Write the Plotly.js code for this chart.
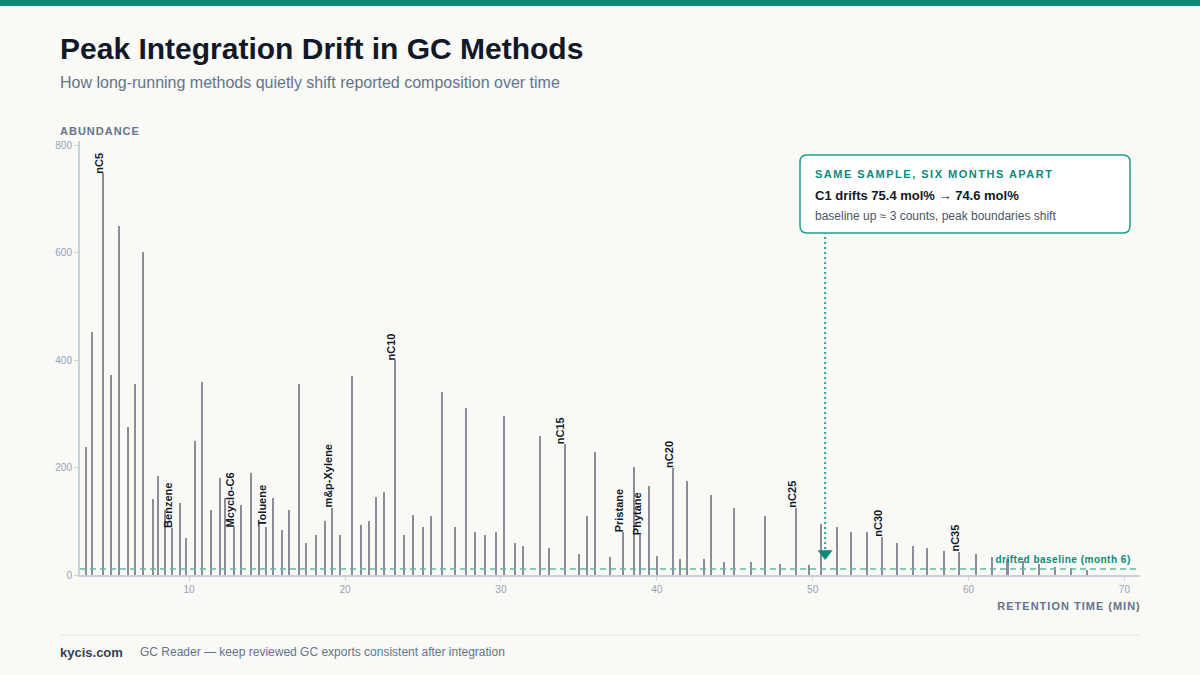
<!DOCTYPE html>
<html>
<head>
<meta charset="utf-8">
<script src="https://cdn.plot.ly/plotly-3.0.1.min.js"></script>
<style>
  html, body { margin: 0; padding: 0; background: #f9f9f6; }
  #chart { width: 1200px; height: 675px; }
</style>
</head>
<body>
<div id="chart"></div>
<script>
// ---------------- DATA ----------------
const retentionTimes = [
  3.40, 3.78, 4.47, 5.00, 5.51, 6.07, 6.52, 7.05, 7.67, 8.01,
  8.46, 8.91, 9.40, 9.81, 10.36, 10.85, 11.39, 11.97, 12.31, 12.86,
  13.33, 13.97, 14.51, 14.94, 15.36, 15.94, 16.39, 17.03, 17.48, 18.12,
  18.72, 19.15, 19.68, 20.43, 21.00, 21.54, 21.99, 22.50, 23.20, 23.77,
  24.35, 24.98, 25.49, 26.22, 27.04, 27.76, 28.33, 28.95, 29.66, 30.17,
  30.88, 31.41, 32.48, 33.06, 34.10, 35.00, 35.51, 36.03, 37.00, 37.82,
  38.53, 38.95, 39.53, 40.00, 41.03, 41.50, 41.97, 43.00, 43.50, 44.30,
  44.98, 46.03, 46.96, 47.93, 48.95, 49.79, 50.56, 51.58, 52.48, 53.50,
  54.47, 55.43, 56.45, 57.35, 58.40, 59.40, 60.49, 61.51, 62.50, 63.50,
  64.53, 65.56, 66.58, 67.60
];
const abundances = [
  238, 452, 748, 372, 650, 275, 355, 601, 141, 185,
  121, 87, 134, 69, 249, 359, 121, 180, 143, 89,
  130, 190, 92, 90, 143, 84, 121, 355, 59, 74,
  100, 125, 74, 370, 93, 100, 145, 154, 400, 74,
  112, 89, 110, 340, 89, 311, 80, 74, 80, 296,
  60, 54, 259, 50, 244, 39, 110, 229, 33, 80,
  201, 74, 165, 35, 200, 30, 175, 30, 149, 24,
  125, 24, 110, 20, 125, 19, 95, 89, 80, 80,
  71, 60, 54, 50, 45, 43, 39, 34, 29, 27,
  21, 15, 13, 10
];
const labelNames = ['nC5', 'Benzene', 'Mcyclo-C6', 'Toluene', 'm&p-Xylene', 'nC10', 'nC15', 'Pristane', 'Phytane', 'nC20', 'nC25', 'nC30', 'nC35'];
const labelTimes = [4.47, 8.91, 12.86, 14.94, 19.15, 23.20, 34.10, 37.82, 38.95, 41.03, 48.95, 54.47, 59.40];
const yTickValues = [0, 200, 400, 600, 800];
const xTickValues = [10, 20, 30, 40, 50, 60, 70];
const driftedBaseline = 11;
const calloutTime = 50.8;
const calloutTipValue = 40;

// ---------------- LAYOUT HELPERS ----------------
const FONT = 'Liberation Sans, Arial, Helvetica, sans-serif';
const TEAL = '#0d8a78';
const PL = 80, PR = 1140, PT = 141, PB = 575;
const px2x = p => (p - PL) / (PR - PL);
const py2y = p => (PB - p) / (PB - PT);

function roundedRectPath(x0, y0, x1, y1, r) {
  const X = px2x, Y = py2y;
  return 'M' + X(x0 + r) + ',' + Y(y0) +
    ' L' + X(x1 - r) + ',' + Y(y0) +
    ' Q' + X(x1) + ',' + Y(y0) + ' ' + X(x1) + ',' + Y(y0 + r) +
    ' L' + X(x1) + ',' + Y(y1 - r) +
    ' Q' + X(x1) + ',' + Y(y1) + ' ' + X(x1 - r) + ',' + Y(y1) +
    ' L' + X(x0 + r) + ',' + Y(y1) +
    ' Q' + X(x0) + ',' + Y(y1) + ' ' + X(x0) + ',' + Y(y1 - r) +
    ' L' + X(x0) + ',' + Y(y0 + r) +
    ' Q' + X(x0) + ',' + Y(y0) + ' ' + X(x0 + r) + ',' + Y(y0) + ' Z';
}

function textAnn(text, pxX, pxY, anchor, size, color, weight) {
  return {
    text: text, xref: 'paper', yref: 'paper', x: px2x(pxX), y: py2y(pxY),
    xanchor: anchor, yanchor: 'middle', showarrow: false,
    xshift: anchor === 'left' ? -2 : 2,
    font: { family: FONT, size: size, color: color, weight: weight || 400 }
  };
}

// ---------------- TRACES ----------------
const peaks = {
  type: 'bar', x: retentionTimes, y: abundances, width: 0.13,
  marker: { color: '#8b8e98', line: { width: 0 } },
  hoverinfo: 'skip', showlegend: false
};
const tip = {
  type: 'scatter', mode: 'markers', x: [calloutTime], y: [calloutTipValue],
  marker: { symbol: 'triangle-down', size: 13, color: TEAL },
  hoverinfo: 'skip', showlegend: false, cliponaxis: false
};

// ---------------- ANNOTATIONS ----------------
const annotations = [];
labelNames.forEach((name, i) => {
  const idx = retentionTimes.indexOf(labelTimes[i]);
  annotations.push({
    text: name, x: labelTimes[i], y: abundances[idx], xref: 'x', yref: 'y',
    textangle: -90, xanchor: 'center', yanchor: 'bottom', showarrow: false,
    xshift: -4, yshift: -1, borderpad: 0,
    font: { family: FONT, size: 11, color: '#111827', weight: 700 }
  });
});
annotations.push(textAnn('Peak Integration Drift in GC Methods', 60, 48, 'left', 30, '#111827', 700));
annotations.push(textAnn('How long-running methods quietly shift reported composition over time', 60, 82, 'left', 16, '#64748b', 400));
annotations.push(textAnn('ABUNDANCE', 60, 131, 'left', 11, '#64748b', 700));
annotations.push(textAnn('RETENTION TIME (MIN)', 1140, 606, 'right', 11, '#64748b', 700));
annotations.push(textAnn('kycis.com', 60, 652, 'left', 13, '#334155', 700));
annotations.push(textAnn('GC Reader — keep reviewed GC exports consistent after integration', 140, 652, 'left', 12, '#64748b', 400));
annotations.push(textAnn('SAME SAMPLE, SIX MONTHS APART', 815, 174, 'left', 11, TEAL, 700));
annotations.push(textAnn('C1 drifts 75.4 mol% → 74.6 mol%', 815, 196, 'left', 13, '#111827', 700));
annotations.push(textAnn('baseline up ≈ 3 counts, peak boundaries shift', 815, 216, 'left', 12, '#4b5563', 400));
annotations.push(textAnn('drifted baseline (month 6)', 1130, 559, 'right', 10, TEAL, 700));

// ---------------- SHAPES ----------------
const shapes = [
  { type: 'rect', xref: 'paper', yref: 'paper', x0: px2x(0), x1: px2x(1200), y0: py2y(0), y1: py2y(6),
    fillcolor: TEAL, line: { width: 0 } },
  { type: 'line', xref: 'paper', yref: 'paper', x0: px2x(60), x1: px2x(1140), y0: py2y(635), y1: py2y(635),
    line: { color: '#e2e6ea', width: 1 } },
  { type: 'line', xref: 'paper', yref: 'y', x0: 0, x1: 1, y0: driftedBaseline, y1: driftedBaseline,
    line: { color: '#5fb8aa', width: 1.5, dash: '6px,4px' }, layer: 'above' },
  { type: 'line', xref: 'x', yref: 'paper', x0: calloutTime, x1: calloutTime, y0: py2y(549), y1: py2y(233),
    line: { color: '#2aa595', width: 2, dash: '2px,3px' } },
  { type: 'path', xref: 'paper', yref: 'paper', path: roundedRectPath(800, 155, 1130, 233, 7),
    fillcolor: '#ffffff', line: { color: '#1f9d8c', width: 1.5 } }
];

const layout = {
  width: 1200, height: 675,
  margin: { l: PL, r: 1200 - PR, t: PT, b: 675 - PB, pad: 0 },
  paper_bgcolor: '#f9f9f6', plot_bgcolor: '#f9f9f6',
  font: { family: FONT },
  showlegend: false, hovermode: false, bargap: 0,
  xaxis: {
    range: [3, 71], tickvals: xTickValues, ticktext: xTickValues.map(String),
    showgrid: false, zeroline: false, showline: true, linecolor: '#c8d0da', linewidth: 2,
    ticks: 'outside', ticklen: 4, tickwidth: 1, tickcolor: '#c8d0da',
    tickfont: { family: FONT, size: 10, color: '#94a3b8' }, fixedrange: true
  },
  yaxis: {
    range: [0, 808], tickvals: yTickValues, ticktext: yTickValues.map(String),
    showgrid: false, zeroline: false, showline: true, linecolor: '#c8d0da', linewidth: 2,
    ticks: 'outside', ticklen: 4, tickwidth: 1, tickcolor: '#c8d0da',
    tickfont: { family: FONT, size: 10, color: '#94a3b8' }, fixedrange: true
  },
  annotations: annotations,
  shapes: shapes
};

Plotly.newPlot('chart', [peaks, tip], layout, { displayModeBar: false, staticPlot: true }).then(gd => {
  const spacing = {
    'ABUNDANCE': [1, 'left'],
    'RETENTION TIME (MIN)': [1, 'right'],
    'SAME SAMPLE, SIX MONTHS APART': [1.5, 'left'],
    'drifted baseline (month 6)': [0.5, 'right']
  };
  gd.querySelectorAll('text.annotation-text').forEach(t => {
    const s = spacing[t.textContent];
    if (!s) return;
    const b0 = t.getBBox();
    t.style.letterSpacing = s[0] + 'px';
    const b1 = t.getBBox();
    const dx = s[1] === 'left' ? (b0.x - b1.x) : ((b0.x + b0.width) - (b1.x + b1.width - s[0]));
    const tr = t.getAttribute('transform') || '';
    t.setAttribute('transform', tr + ' translate(' + dx + ',0)');
  });
});
</script>
</body>
</html>
